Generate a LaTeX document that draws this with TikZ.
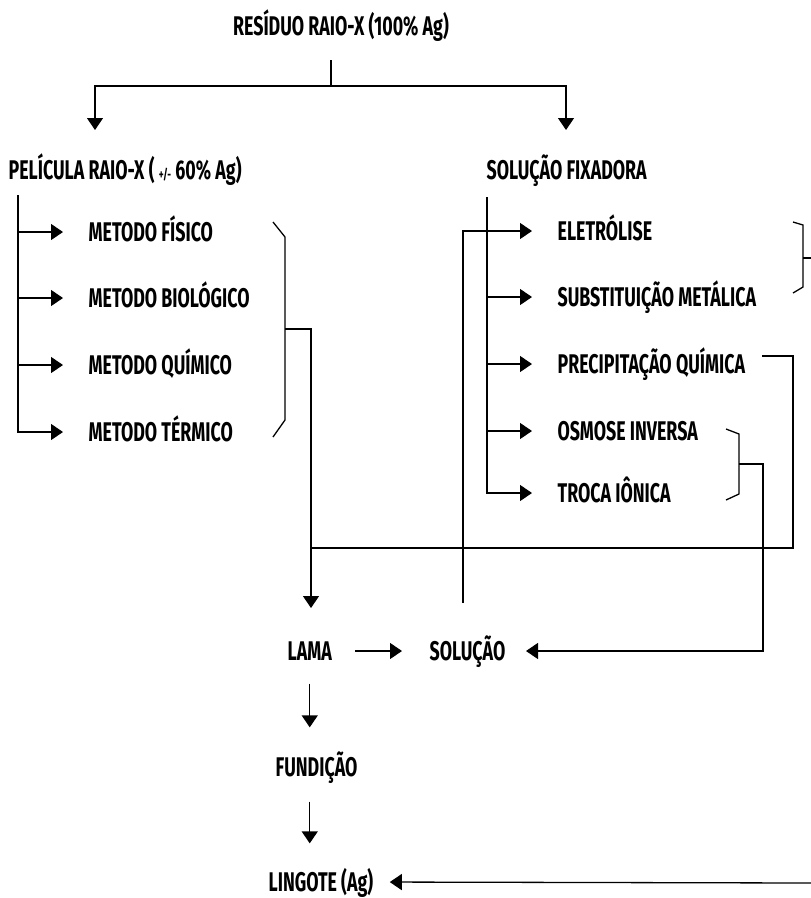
\documentclass[tikz,border=0pt]{standalone}
\usepackage{fontspec}
\setmainfont{Fira Sans}[FakeStretch=0.66]
\usetikzlibrary{arrows.meta,positioning,calc}

\begin{document}
\begin{tikzpicture}[x=1pt,y=-1pt,line width=1.3pt,
  lbl/.style={inner sep=0pt,anchor=west,text height=18pt,text depth=0pt,
    font=\fontsize{27}{30}\selectfont\bfseries},
  arr/.style={-{Triangle[length=12pt,width=16pt]}}]
\useasboundingbox (0,0) rectangle (811,898);
% texts
\node[lbl,anchor=center] (res) at (341,26) {RESÍDUO RAIO-X (100\% Ag)};
\node[lbl] (pel) at (8,170) {PELÍCULA RAIO-X ( {\fontsize{14}{15}\selectfont +/-} 60\% Ag)};
\node[lbl] (fix) at (486,170) {SOLUÇÃO FIXADORA};
\node[lbl] (m1) at (88,232) {METODO FÍSICO};
\node[lbl] (m2) at (88,298) {METODO BIOLÓGICO};
\node[lbl] (m3) at (88,365) {METODO QUÍMICO};
\node[lbl] (m4) at (88,432) {METODO TÉRMICO};
\node[lbl] (s1) at (557,231) {ELETRÓLISE};
\node[lbl] (s2) at (557,297) {SUBSTITUIÇÃO METÁLICA};
\node[lbl] (s3) at (557,364) {PRECIPITAÇÃO QUÍMICA};
\node[lbl] (s4) at (557,431) {OSMOSE INVERSA};
\node[lbl] (s5) at (557,493) {TROCA IÔNICA};
\node[lbl] (lama) at (287,651) {LAMA};
\node[lbl] (sol) at (429,651) {SOLUÇÃO};
\node[lbl] (fund) at (275,767) {FUNDIÇÃO};
\node[lbl] (ling) at (268,882) {LINGOTE (Ag)};
% points
\coordinate (stem) at (331,60);
\coordinate (fork) at (331,86);
\coordinate (pelin) at (95,130);
\coordinate (fixin) at (566,130);
\coordinate (pelspine) at (18,195);
\coordinate (fixspine) at (487,197);
\coordinate (solup) at (463,603);
\coordinate (lbmid) at (285,329);
\coordinate (lamain) at (311,608);
\coordinate (pqout) at (762,356);
\coordinate (pqturn) at (793,548);
\coordinate (osmid) at (739,464);
\coordinate (osturn) at (763,464);
\coordinate (rbmid) at (803,258);
\coordinate (rbout) at (811,258);
\coordinate (edge) at (811,883);
% top fork
\draw[line width=2.6pt] (stem) -- (fork);
\draw[arr] (fork) -| (pelin);
\draw[arr] (fork) -| (fixin);
% left branch
\draw[arr,shorten >=25pt] (pelspine) |- (m4.west);
\draw[arr,shorten >=25pt] (pelspine |- m1.west) -- (m1.west);
\draw[arr,shorten >=25pt] (pelspine |- m2.west) -- (m2.west);
\draw[arr,shorten >=25pt] (pelspine |- m3.west) -- (m3.west);
% right branch
\draw[arr,shorten >=25pt] (fixspine) |- (s5.west);
\draw[arr,shorten >=25pt] (fixspine |- s2.west) -- (s2.west);
\draw[arr,shorten >=25pt] (fixspine |- s3.west) -- (s3.west);
\draw[arr,shorten >=25pt] (fixspine |- s4.west) -- (s4.west);
\draw[arr,shorten >=25pt] (solup) |- (s1.west);
% brackets
\draw (273,222) -- (285,237) -- (285,420) -- (273,437);
\draw (793,222) -- (803,225) -- (803,287) -- (793,293);
\draw (726,429) -- (739,434) -- (739,494) -- (726,500);
\draw (rbmid) -- (rbout);
% to lama and solucao
\draw[arr] (lbmid) -| (lamain);
\draw (pqout) -| (pqturn) -- (lamain |- pqturn);
\draw[arr,shorten >=20pt] (osmid) -- (osturn) |- (sol.east);
\draw[arr,shorten <=23pt,shorten >=27pt] (lama.east) -- (sol.west);
\draw[arr,shorten <=23pt,shorten >=30pt] (lama.south) -- (lama.south |- fund.north);
\draw[arr,shorten <=25pt,shorten >=29pt] (lama.south |- fund.south) -- (lama.south |- ling.north);
\draw[arr,shorten >=16pt] (edge) -- (ling.east);
\end{tikzpicture}
\end{document}
